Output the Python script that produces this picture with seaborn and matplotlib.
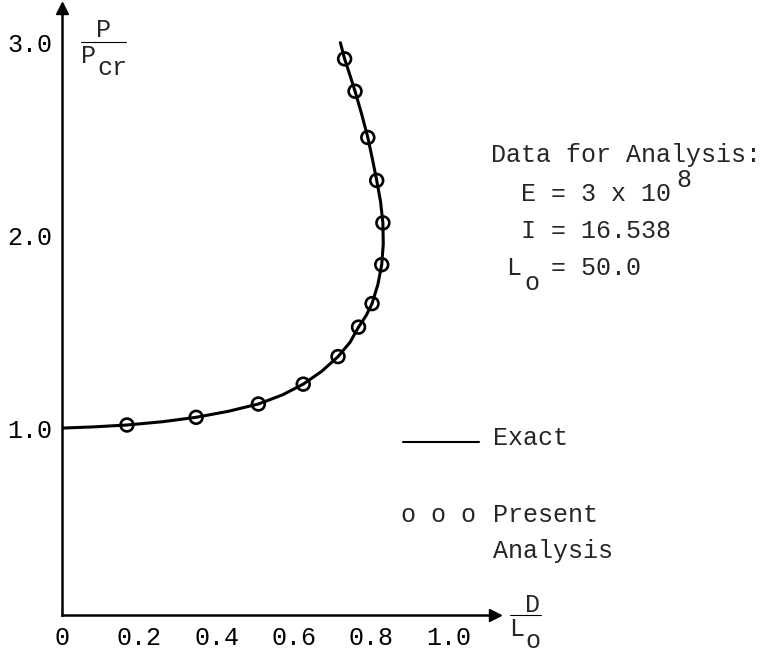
import matplotlib
matplotlib.use("Agg")
import matplotlib.pyplot as plt
from matplotlib.lines import Line2D
import pandas as pd
import seaborn as sns

# Exact solution curve (D/Lo vs P/Pcr)
exact_x = [0.0, 0.08, 0.168, 0.26, 0.347, 0.43, 0.508, 0.57, 0.624, 0.672, 0.714,
           0.745, 0.767, 0.787, 0.802, 0.817, 0.827, 0.831, 0.830, 0.824, 0.814,
           0.803, 0.791, 0.775, 0.758, 0.745, 0.731, 0.720]
exact_y = [1.0, 1.006, 1.016, 1.033, 1.056, 1.087, 1.125, 1.172, 1.228, 1.295, 1.371,
           1.445, 1.524, 1.585, 1.646, 1.745, 1.848, 1.955, 2.065, 2.175, 2.285,
           2.395, 2.508, 2.63, 2.748, 2.83, 2.916, 3.0]

# Present analysis points
pts_x = [0.168, 0.347, 0.508, 0.624, 0.714, 0.767, 0.802, 0.827, 0.830, 0.814, 0.791, 0.758, 0.731]
pts_y = [1.016, 1.056, 1.125, 1.228, 1.371, 1.524, 1.646, 1.848, 2.065, 2.285, 2.508, 2.748, 2.916]

x_ticks = [0, 0.2, 0.4, 0.6, 0.8, 1.0]
x_ticklabels = ["0", "0.2", "0.4", "0.6", "0.8", "1.0"]
y_ticks = [1.0, 2.0, 3.0]
y_ticklabels = ["1.0", "2.0", "3.0"]

sns.set_theme(style="white")
plt.rcParams["font.family"] = ["Liberation Mono", "DejaVu Sans Mono"]
FS = 18

W, H = 766, 652
fig = plt.figure(figsize=(W / 100, H / 100), dpi=100)
ax = fig.add_axes([62 / W, 1 - 615 / H, 433 / W, 607 / H])


def px(x, y):
    return x / W, 1 - y / H


exact = pd.DataFrame({"d": exact_x, "p": exact_y})
sns.lineplot(data=exact, x="d", y="p", sort=False, estimator=None,
             color="black", lw=2.2, ax=ax)
sns.scatterplot(x=pts_x, y=pts_y, marker="o", s=85, facecolor="none",
                edgecolor="black", linewidth=1.9, ax=ax, zorder=3)

ax.set_xlim(0, 1.12)
ax.set_ylim(0.03, 3.18)
ax.set_xticks(x_ticks)
ax.set_xticklabels(x_ticklabels)
ax.set_yticks(y_ticks)
ax.set_yticklabels(y_ticklabels)
ax.set_xlabel("")
ax.set_ylabel("")
ax.tick_params(direction="in", length=5, width=1.5, colors="black",
               labelsize=FS)
ax.tick_params(axis="x", pad=8)
ax.tick_params(axis="y", pad=7)
sns.despine(ax=ax)
for s in ["left", "bottom"]:
    ax.spines[s].set_color("black")
    ax.spines[s].set_linewidth(1.8)

# axis arrow heads
ax.plot(1, 0, marker=">", color="black", ms=8, transform=ax.transAxes, clip_on=False)
ax.plot(0, 1, marker="^", color="black", ms=8, transform=ax.transAxes, clip_on=False)

# P / Pcr label
fig.text(*px(96, 37), "P", fontsize=FS, va="baseline")
fig.add_artist(Line2D([81 / W, 126 / W], [1 - 42 / H] * 2, color="black", lw=0.8))
fig.text(*px(81, 63), "P", fontsize=FS, va="baseline")
fig.text(*px(97, 75), "cr", fontsize=FS, va="baseline")

# D / Lo label
fig.text(*px(525, 612), "D", fontsize=FS, va="baseline")
fig.add_artist(Line2D([510 / W, 541 / W], [1 - 615 / H] * 2, color="black", lw=0.8))
fig.text(*px(509, 636), "L", fontsize=FS, va="baseline")
fig.text(*px(525, 648), "o", fontsize=FS, va="baseline")

# data block
fig.text(*px(491, 162), "Data for Analysis:", fontsize=FS, va="baseline")
fig.text(*px(521, 201), "E = 3 x 10", fontsize=FS, va="baseline")
fig.text(*px(676, 187), "8", fontsize=FS, va="baseline")
fig.text(*px(521, 238), "I = 16.538", fontsize=FS, va="baseline")
fig.text(*px(506, 275), "L", fontsize=FS, va="baseline")
fig.text(*px(524, 290), "o", fontsize=FS, va="baseline")
fig.text(*px(551, 275), "= 50.0", fontsize=FS, va="baseline")

# legend
fig.add_artist(Line2D([403 / W, 479 / W], [1 - 442 / H] * 2, color="black", lw=1.5))
fig.text(*px(493, 445), "Exact", fontsize=FS, va="baseline")
fig.text(*px(401, 522), "o o o", fontsize=FS, va="baseline")
fig.text(*px(493, 522), "Present", fontsize=FS, va="baseline")
fig.text(*px(493, 558), "Analysis", fontsize=FS, va="baseline")

fig.savefig("out.png", dpi=100)
